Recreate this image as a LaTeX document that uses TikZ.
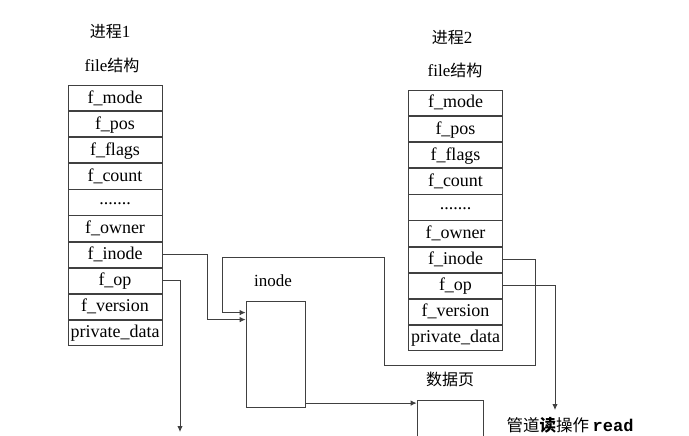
\documentclass[tikz,border=0pt]{standalone}
\usepackage{fontspec}
\setmainfont{Liberation Serif}
\newfontfamily\cjk{Noto Sans CJK SC}
\newfontfamily\codefont{Liberation Mono}
\usetikzlibrary{positioning, arrows.meta}
\tikzset{field/.style={draw=black!75, line width=0.8pt, minimum width=94pt, minimum height=25.3pt, inner sep=0pt, text height=12pt, text depth=2pt, font=\fontsize{18}{18}\selectfont},
         title/.style={font=\cjk\fontsize{16}{16}\selectfont},
         link/.style={draw=black!75, line width=0.9pt},
         tip/.style={-{Latex[length=6pt,width=5.5pt]}},
        }
\begin{document}
\begin{tikzpicture}[x=1pt,y=-1pt]
        \useasboundingbox[fill=white](0,0)rectangle(689,436);

        % process 1
        \node[title](proc1)at(110,32){进程{\fontsize{17}{17}\selectfont\rmfamily 1}};
        \node[title](struct1)at(112,65){{\rmfamily\fontsize{17}{17}\selectfont file}结构};
        \node[field](mode1)at(115,98){f\_mode};
        \node[field, below=0pt of mode1](pos1){f\_pos};
        \node[field, below=0pt of pos1](flags1){f\_flags};
        \node[field, below=0pt of flags1](count1){f\_count};
        \node[field, below=0pt of count1](dots1){\raisebox{3pt}{.......}};
        \node[field, below=0pt of dots1](owner1){f\_owner};
        \node[field, below=0pt of owner1](inode1){f\_inode};
        \node[field, below=0pt of inode1](op1){f\_op};
        \node[field, below=0pt of op1](version1){f\_version};
        \node[field, below=0pt of version1](private1){private\_data};

        % process 2
        \node[title](proc2)at(452,38){进程{\fontsize{17}{17}\selectfont\rmfamily 2}};
        \node[title](struct2)at(455,70){{\rmfamily\fontsize{17}{17}\selectfont file}结构};
        \node[field](mode2)at(455.5,103){f\_mode};
        \node[field, below=0pt of mode2](pos2){f\_pos};
        \node[field, below=0pt of pos2](flags2){f\_flags};
        \node[field, below=0pt of flags2](count2){f\_count};
        \node[field, below=0pt of count2](dots2){\raisebox{3pt}{.......}};
        \node[field, below=0pt of dots2](owner2){f\_owner};
        \node[field, below=0pt of owner2](inode2){f\_inode};
        \node[field, below=0pt of inode2](op2){f\_op};
        \node[field, below=0pt of op2](version2){f\_version};
        \node[field, below=0pt of version2](private2){private\_data};

        % inode and data page
        \node[draw=black!75, line width=0.8pt, minimum width=59pt, minimum height=106pt, inner sep=0pt](inode)at(275.5,354){};
        \node[font=\fontsize{17}{17}\selectfont](inodelabel)at(273,281){inode};
        \node[draw=black!75, line width=0.8pt, minimum width=66pt, minimum height=70pt, inner sep=0pt](page)at(450,435){};
        \node[title](pagelabel)at(450,379){数据页};
        \node[font=\cjk\fontsize{16.5}{16.5}\selectfont, inner sep=1pt](readlabel)at(570,425){管道{\bfseries 读}操作 {\codefont\bfseries\fontsize{17}{17}\selectfont read}};

        \coordinate(in1)at([yshift=-19pt]inode.north west);
        \coordinate(in2)at([yshift=-12pt]inode.north west);
        \coordinate(a1)at(207,0);
        \coordinate(b1)at(535,365);
        \coordinate(b2)at(384,257);
        \coordinate(b3)at(222,0);
        \coordinate(c1)at(180,432);
        \coordinate(c2)at(555,410);
        \coordinate(d1)at([yshift=-3.5pt]page.north west);

        \draw[link, tip](inode1.east)-|(a1|-in1)--(in1);
        \draw[link, tip](inode2.east)-|(b1)-|(b2)-|(b3|-in2)--(in2);
        \draw[link, tip](op1.east)-|(c1);
        \draw[link, tip](op2.east)-|(c2);
        \draw[link, tip](d1-|inode.east)--(d1);
    \end{tikzpicture}
\end{document}
